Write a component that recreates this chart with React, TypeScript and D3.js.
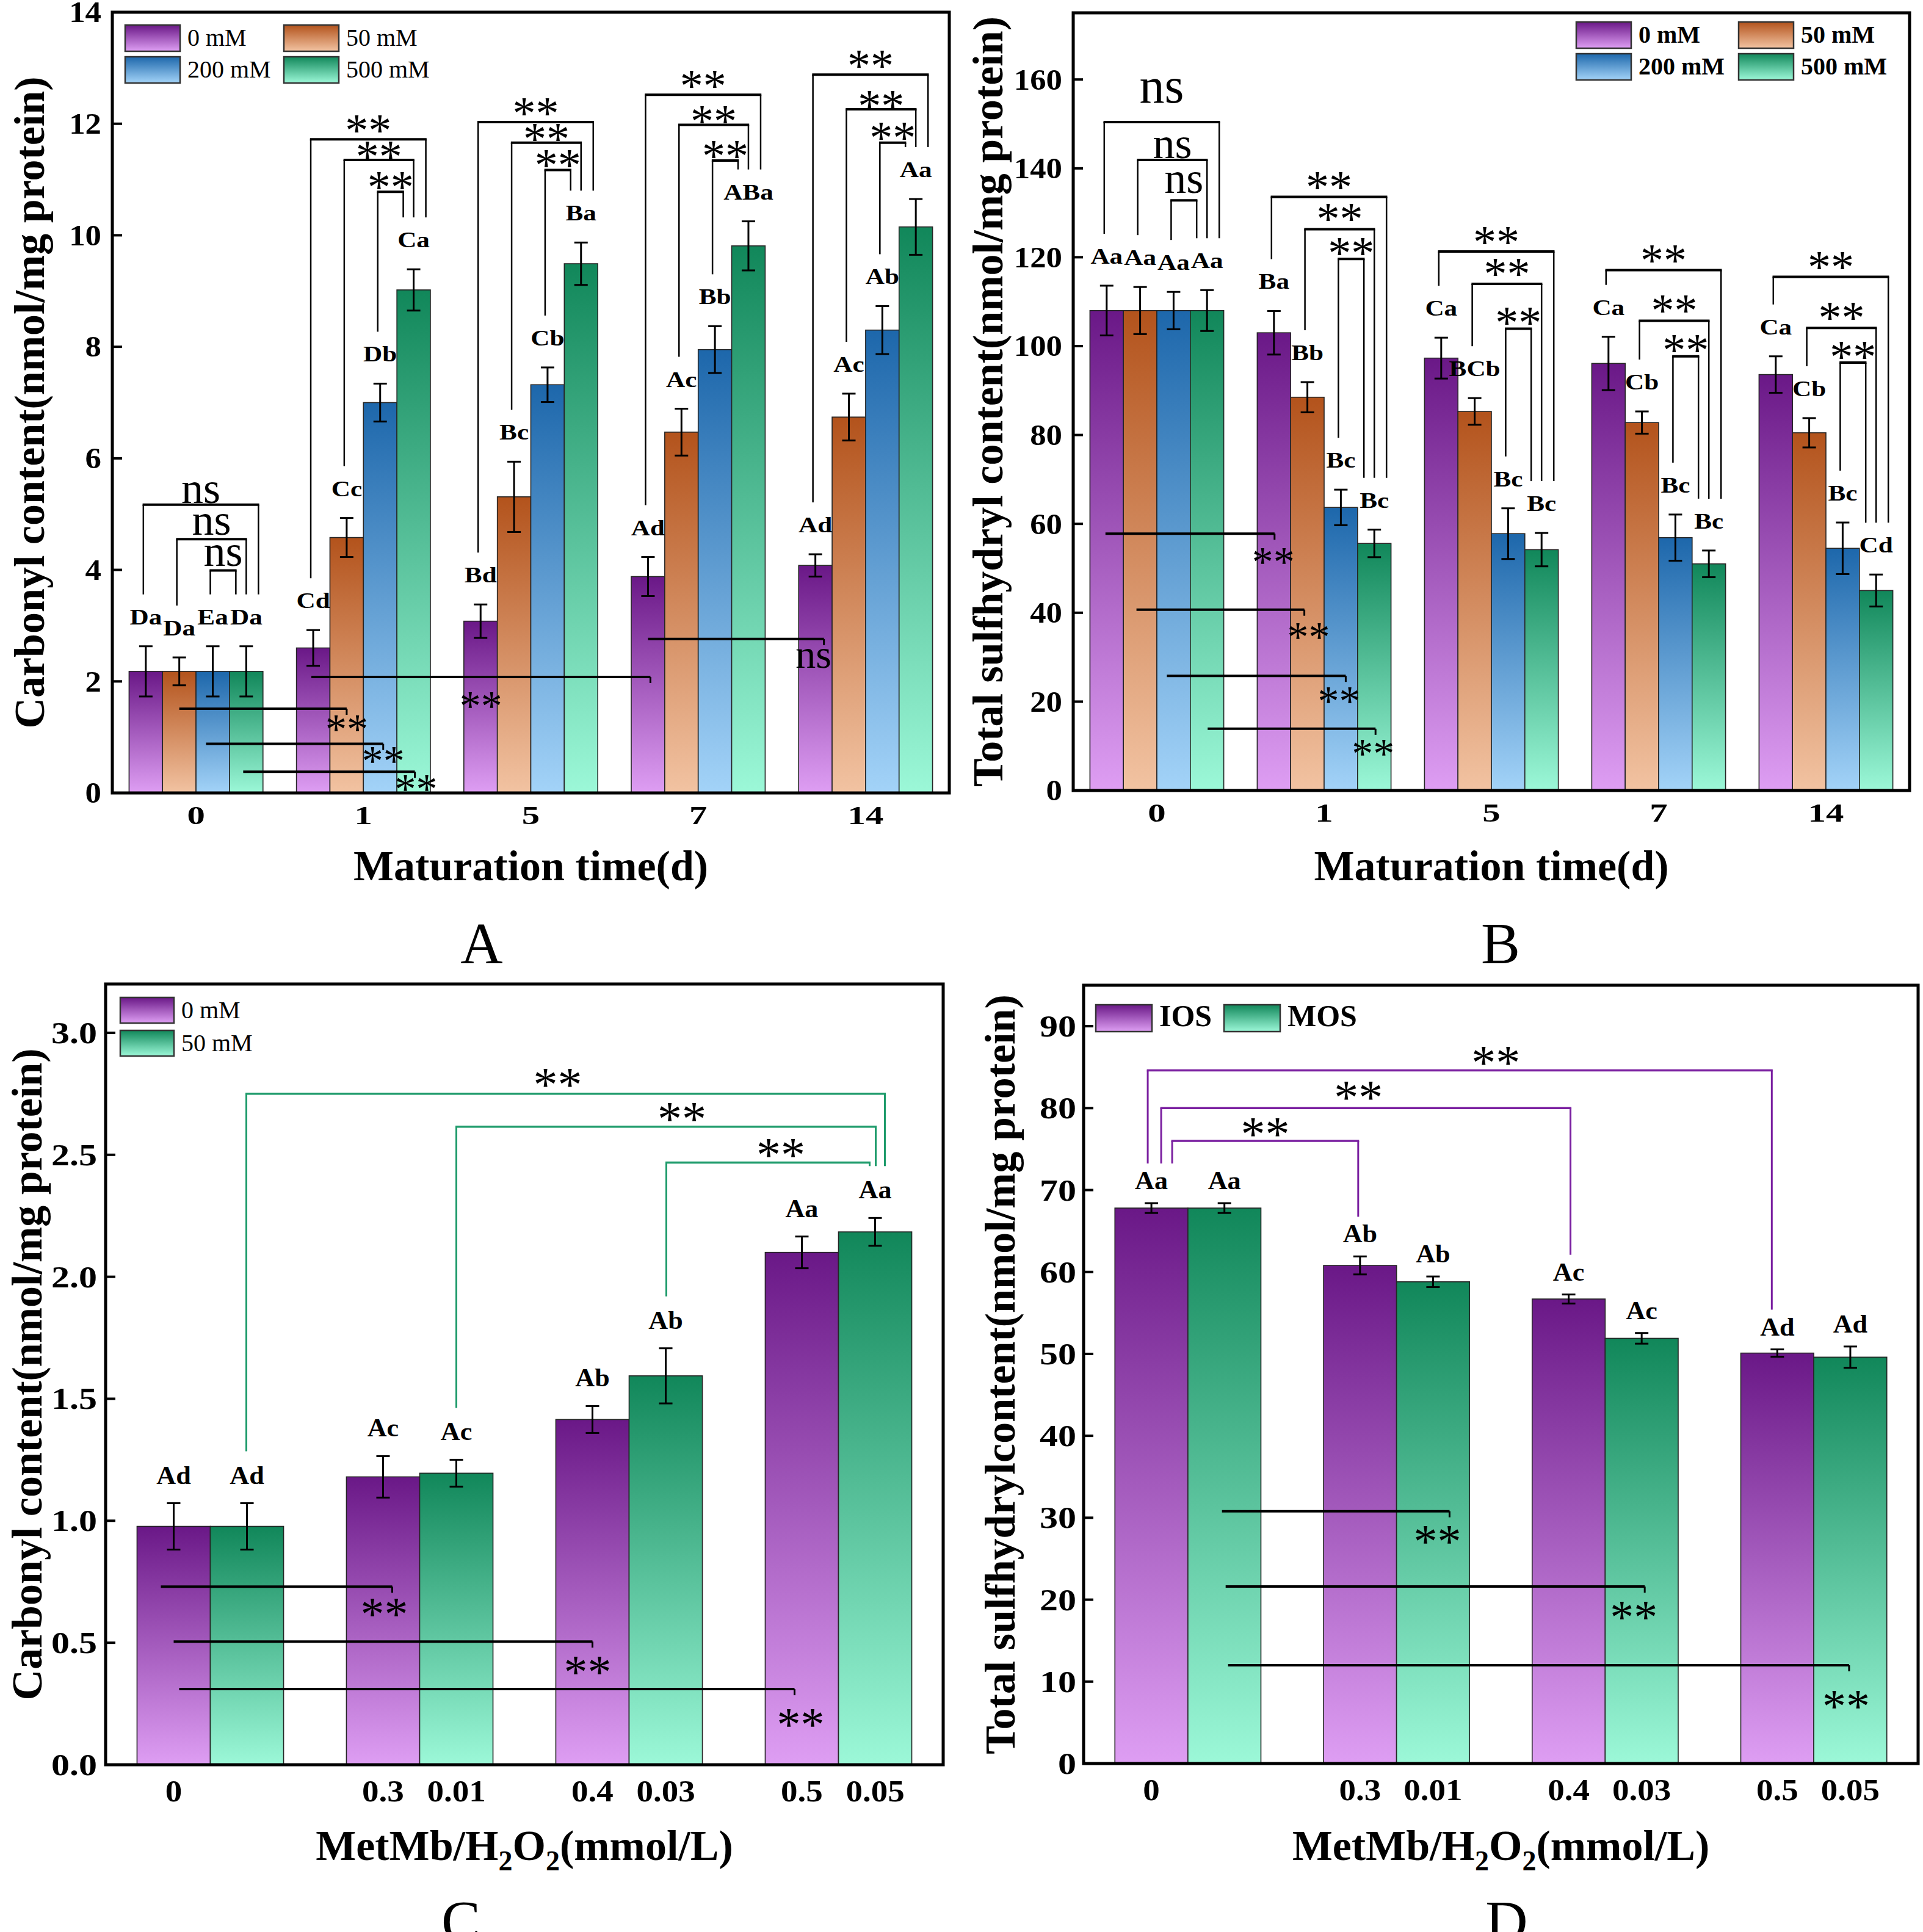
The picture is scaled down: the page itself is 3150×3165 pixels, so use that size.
import React from 'react';
import * as d3 from 'd3';

const FONT = "'Liberation Serif', 'Times New Roman', Times, serif";

// ---------------- Panel A : carbonyl content during maturation ----------------
const maturationDays = ['0', '1', '5', '7', '14'];
const saltLevels = ['0 mM', '50 mM', '200 mM', '500 mM'];
const carbonyl0mM = [2.18, 2.6, 3.08, 3.88, 4.08];
const carbonyl50mM = [2.18, 4.58, 5.31, 6.47, 6.74];
const carbonyl200mM = [2.18, 7.0, 7.32, 7.95, 8.3];
const carbonyl500mM = [2.18, 9.02, 9.49, 9.81, 10.15];
const carbonylSe0mM = [0.45, 0.32, 0.3, 0.35, 0.2];
const carbonylSe50mM = [0.25, 0.35, 0.63, 0.42, 0.42];
const carbonylSe200mM = [0.45, 0.34, 0.31, 0.42, 0.43];
const carbonylSe500mM = [0.45, 0.37, 0.38, 0.44, 0.5];
const carbonylLetters0mM = ['Da', 'Cd', 'Bd', 'Ad', 'Ad'];
const carbonylLetters50mM = ['Da', 'Cc', 'Bc', 'Ac', 'Ac'];
const carbonylLetters200mM = ['Ea', 'Db', 'Cb', 'Bb', 'Ab'];
const carbonylLetters500mM = ['Da', 'Ca', 'Ba', 'ABa', 'Aa'];
const carbonylTicks = [0, 2, 4, 6, 8, 10, 12, 14];
// nested comparisons inside each day (outer, middle, inner bracket heights)
const carbonylBrackets = [
  { group: 0, levels: [5.17, 4.55, 3.99], mark: 'ns' },
  { group: 1, levels: [11.72, 11.35, 10.78], mark: '**' },
  { group: 2, levels: [12.03, 11.66, 11.17], mark: '**' },
  { group: 3, levels: [12.52, 11.98, 11.34], mark: '**' },
  { group: 4, levels: [12.88, 12.26, 11.66], mark: '**' },
];
// comparisons between days
const carbonylLinks = [
  { from: [0, 1], to: [1, 1], level: 1.51, mark: '**', at: 'end' },
  { from: [0, 2], to: [1, 2], level: 0.88, mark: '**', at: 'end' },
  { from: [0, 3], to: [1, 3], level: 0.38, mark: '**', at: 'end' },
  { from: [1, 0], to: [3, 0], level: 2.08, mark: '**', at: 'mid' },
  { from: [3, 0], to: [4, 0], level: 2.76, mark: 'ns', at: 'end' },
];

// ---------------- Panel B : total sulfhydryl during maturation ----------------
const sulfhydryl0mM = [108, 103.0, 97.3, 96.1, 93.6];
const sulfhydryl50mM = [108, 88.5, 85.3, 82.8, 80.5];
const sulfhydryl200mM = [108, 63.7, 57.8, 56.9, 54.5];
const sulfhydryl500mM = [108, 55.6, 54.2, 51.0, 45.0];
const sulfhydrylSe0mM = [5.6, 4.9, 4.6, 6.0, 4.1];
const sulfhydrylSe50mM = [5.3, 3.4, 3.0, 2.5, 3.3];
const sulfhydrylSe200mM = [4.2, 4.0, 5.7, 5.2, 5.8];
const sulfhydrylSe500mM = [4.6, 3.1, 3.75, 3.0, 3.6];
const sulfhydrylLetters0mM = ['Aa', 'Ba', 'Ca', 'Ca', 'Ca'];
const sulfhydrylLetters50mM = ['Aa', 'Bb', 'BCb', 'Cb', 'Cb'];
const sulfhydrylLetters200mM = ['Aa', 'Bc', 'Bc', 'Bc', 'Bc'];
const sulfhydrylLetters500mM = ['Aa', 'Bc', 'Bc', 'Bc', 'Cd'];
const sulfhydrylTicks = [0, 20, 40, 60, 80, 100, 120, 140, 160];
const sulfhydrylBrackets = [
  { group: 0, levels: [150.4, 141.9, 132.8], mark: 'ns' },
  { group: 1, levels: [133.6, 126.3, 119.6], mark: '**' },
  { group: 2, levels: [121.3, 114.0, 103.9], mark: '**' },
  { group: 3, levels: [117.1, 105.7, 97.7], mark: '**' },
  { group: 4, levels: [115.6, 104.1, 96.3], mark: '**' },
];
const sulfhydrylLinks = [
  { from: [0, 0], to: [1, 0], level: 57.8, mark: '**', at: 'end' },
  { from: [0, 1], to: [1, 1], level: 40.7, mark: '**', at: 'end' },
  { from: [0, 2], to: [1, 2], level: 25.8, mark: '**', at: 'end' },
  { from: [0, 3], to: [1, 3], level: 13.9, mark: '**', at: 'end' },
];

// ---------------- Panel C : carbonyl under MetMb / H2O2 oxidation ----------------
const metMbLevels = ['0', '0.3', '0.4', '0.5'];
const h2o2Levels = ['', '0.01', '0.03', '0.05'];
const oxSeriesC = ['0 mM', '50 mM'];
const oxCarbonylIOS = [0.977, 1.18, 1.415, 2.1];
const oxCarbonylMOS = [0.977, 1.195, 1.594, 2.184];
const oxCarbonylSeIOS = [0.095, 0.085, 0.055, 0.065];
const oxCarbonylSeMOS = [0.095, 0.055, 0.113, 0.057];
const oxCarbonylLettersIOS = ['Ad', 'Ac', 'Ab', 'Aa'];
const oxCarbonylLettersMOS = ['Ad', 'Ac', 'Ab', 'Aa'];
const oxCarbonylTicks = [0, 0.5, 1.0, 1.5, 2.0, 2.5, 3.0];
const oxCarbonylBrackets = [
  { from: [0, 1], to: [3, 1], level: 2.75, mark: '**' },
  { from: [1, 1], to: [3, 1], level: 2.615, mark: '**' },
  { from: [2, 1], to: [3, 1], level: 2.468, mark: '**' },
];
const oxCarbonylLinks = [
  { from: [0, 0], to: [1, 0], level: 0.73, mark: '**', at: 'end' },
  { from: [0, 0], to: [2, 0], level: 0.505, mark: '**', at: 'end' },
  { from: [0, 0], to: [3, 0], level: 0.31, mark: '**', at: 'end' },
];

// ---------------- Panel D : total sulfhydryl under MetMb / H2O2 oxidation ----------------
const oxSeriesD = ['IOS', 'MOS'];
const oxSulfIOS = [67.8, 60.8, 56.7, 50.1];
const oxSulfMOS = [67.8, 58.8, 51.9, 49.6];
const oxSulfSeIOS = [0.6, 1.1, 0.55, 0.45];
const oxSulfSeMOS = [0.6, 0.65, 0.65, 1.3];
const oxSulfLettersIOS = ['Aa', 'Ab', 'Ac', 'Ad'];
const oxSulfLettersMOS = ['Aa', 'Ab', 'Ac', 'Ad'];
const oxSulfTicks = [0, 10, 20, 30, 40, 50, 60, 70, 80, 90];
const oxSulfBrackets = [
  { from: [0, 0], to: [3, 0], level: 84.6, mark: '**' },
  { from: [0, 0], to: [2, 0], level: 80.0, mark: '**' },
  { from: [0, 0], to: [1, 0], level: 76.0, mark: '**' },
];
const oxSulfLinks = [
  { from: [0, 1], to: [1, 1], level: 30.8, mark: '**', at: 'end' },
  { from: [0, 1], to: [2, 1], level: 21.6, mark: '**', at: 'end' },
  { from: [0, 1], to: [3, 1], level: 12.0, mark: '**', at: 'end' },
];

// ---------------- styling ----------------
const COLORS: Record<string, [string, string]> = {
  purple: ['#6a1887', '#de9ef3'],
  orange: ['#b3531c', '#f2c3a2'],
  blue: ['#1d67ab', '#a3d3f8'],
  green: ['#11875a', '#9cf8d8'],
};
const GREEN_LINE = '#1e9b6b';
const PURPLE_LINE = '#7a1fa0';

function Txt(props: any) {
  const { x, y, children, size, weight = 'normal', anchor = 'middle', sx = 1, rotate = 0, fill = '#000' } = props;
  let t = `translate(${x},${y})`;
  if (rotate) t += ` rotate(${rotate})`;
  if (sx !== 1) t += ` scale(${sx},1)`;
  return (
    <text transform={t} fontSize={size} fontWeight={weight} textAnchor={anchor} fontFamily={FONT} fill={fill}>
      {children}
    </text>
  );
}

function scalesFor(p: any) {
  const x = d3.scaleBand<number>().domain(d3.range(p.groups.length)).range([p.left, p.right]).paddingInner(p.pad).paddingOuter(p.pad / 2);
  const y = d3.scaleLinear().domain([0, p.yMax]).range([p.bottom, p.top]);
  const bw = x.bandwidth() / p.series.length;
  const bx = (g: number, s: number) => (x(g) as number) + s * bw;
  const cx = (g: number, s: number) => bx(g, s) + bw / 2;
  const errTop = (g: number, s: number) => y(p.series[s].values[g] + p.series[s].errors[g]);
  return { x, y, bw, bx, cx, errTop };
}

function Bars({ p, sc }: any) {
  return (
    <g>
      {p.series.map((s: any, si: number) =>
        s.values.map((v: number, gi: number) => (
          <rect key={`b${si}-${gi}`} x={sc.bx(gi, si)} y={sc.y(v)} width={sc.bw} height={sc.y(0) - sc.y(v)}
            fill={`url(#grad-${s.color})`} stroke="#262626" strokeWidth={1.6} />
        ))
      )}
    </g>
  );
}

function ErrorBars({ p, sc, cap }: any) {
  return (
    <g stroke="#000" strokeWidth={3}>
      {p.series.map((s: any, si: number) =>
        s.values.map((v: number, gi: number) => {
          const c = sc.cx(gi, si);
          const y1 = sc.y(v + s.errors[gi]);
          const y2 = sc.y(v - s.errors[gi]);
          return (
            <g key={`e${si}-${gi}`}>
              <line x1={c} x2={c} y1={y1} y2={y2} />
              <line x1={c - cap / 2} x2={c + cap / 2} y1={y1} y2={y1} />
              <line x1={c - cap / 2} x2={c + cap / 2} y1={y2} y2={y2} />
            </g>
          );
        })
      )}
    </g>
  );
}

function Letters({ p, sc, size, sx, gap }: any) {
  return (
    <g>
      {p.series.map((s: any, si: number) =>
        s.letters.map((l: string, gi: number) => (
          <Txt key={`l${si}-${gi}`} x={sc.cx(gi, si)} y={sc.errTop(gi, si) - gap} size={size} weight="bold" sx={sx}>{l}</Txt>
        ))
      )}
    </g>
  );
}

function Frame({ p, sc, labelSize, labelSx, labelGap }: any) {
  return (
    <g>
      {p.ticks.map((t: number) => (
        <g key={`t${t}`}>
          <line x1={p.left} x2={p.left + 16} y1={sc.y(t)} y2={sc.y(t)} stroke="#000" strokeWidth={4} />
          <Txt x={p.left - labelGap} y={sc.y(t) + 0.34 * labelSize} size={labelSize} weight="bold" anchor="end" sx={labelSx}>
            {p.fmt(t)}
          </Txt>
        </g>
      ))}
      <rect x={p.left} y={p.top} width={p.right - p.left} height={p.bottom - p.top} fill="none" stroke="#000" strokeWidth={5} />
    </g>
  );
}

function Legend({ items, w, h, size, weight }: any) {
  return (
    <g>
      {items.map((it: any, i: number) => (
        <g key={`lg${i}`}>
          <rect x={it.x} y={it.y} width={w} height={h} fill={`url(#grad-${it.color})`} stroke="#333" strokeWidth={2.5} />
          <Txt x={it.x + w + 12} y={it.y + h * 0.8} size={size} weight={weight} anchor="start">{it.name}</Txt>
        </g>
      ))}
    </g>
  );
}

function Bracket({ x1, x2, yl, e1, e2, color, hw, lw }: any) {
  return (
    <g stroke={color} fill="none">
      <line x1={x1} x2={x1} y1={yl} y2={e1} strokeWidth={lw} />
      <line x1={x2} x2={x2} y1={yl} y2={e2} strokeWidth={lw} />
      <line x1={x1 - lw / 2} x2={x2 + lw / 2} y1={yl} y2={yl} strokeWidth={hw} />
    </g>
  );
}

// nested brackets inside one group: bars 0,1,2 against bar 3
function TripleBrackets({ sc, specs, ldx, rdx, legGap, starLift, nsLift, starSize, nsSize, special }: any) {
  const out: any[] = [];
  specs.forEach((sp: any, i: number) => {
    for (let k = 0; k < 3; k++) {
      const g = sp.group;
      const x1 = sc.cx(g, k) + ldx;
      const x2 = sc.cx(g, 3) + rdx[k];
      const yl = sc.y(sp.levels[k]);
      out.push(<Bracket key={`tb${i}-${k}`} x1={x1} x2={x2} yl={yl} e1={sc.errTop(g, k) - legGap} e2={sc.errTop(g, 3) - legGap} color="#000" hw={4} lw={2.5} />);
      const mx = (x1 + x2) / 2;
      if (sp.mark === 'ns') {
        const sz = special && special.group === g ? special.size[k] : nsSize;
        const lift = special && special.group === g ? special.lift[k] : nsLift[k];
        out.push(<Txt key={`tt${i}-${k}`} x={mx} y={yl - lift} size={sz}>ns</Txt>);
      } else {
        out.push(<Txt key={`tt${i}-${k}`} x={mx} y={yl - starLift[k] + 0.47 * starSize} size={starSize}>**</Txt>);
      }
    }
  });
  return <g>{out}</g>;
}

// single brackets between groups (panels C, D)
function SpanBrackets({ sc, specs, ldx, rdx, starDx, legGap, starLift, starSize, color }: any) {
  return (
    <g>
      {specs.map((sp: any, i: number) => {
        const x1 = sc.cx(sp.from[0], sp.from[1]) + ldx[i];
        const x2 = sc.cx(sp.to[0], sp.to[1]) + rdx[i];
        const yl = sc.y(sp.level);
        return (
          <g key={`sb${i}`}>
            <Bracket x1={x1} x2={x2} yl={yl} e1={sc.errTop(sp.from[0], sp.from[1]) - legGap} e2={sc.errTop(sp.to[0], sp.to[1]) - legGap} color={color} hw={3.5} lw={3} />
            <Txt x={(x1 + x2) / 2 + starDx[i]} y={yl - starLift[i] + 0.47 * starSize} size={starSize}>{sp.mark}</Txt>
          </g>
        );
      })}
    </g>
  );
}

// horizontal comparison lines near the bottom
function Links({ sc, links, fromDx, toDx, drop, markDx, starSize, nsSize }: any) {
  return (
    <g>
      {links.map((ln: any, i: number) => {
        const x1 = sc.cx(ln.from[0], ln.from[1]) + fromDx[i];
        const x2 = sc.cx(ln.to[0], ln.to[1]) + toDx[i];
        const yl = sc.y(ln.level);
        const tx = (ln.at === 'mid' ? (x1 + x2) / 2 : x2) + markDx[i];
        const cy = yl + drop[i];
        return (
          <g key={`ln${i}`}>
            <line x1={x1} x2={x2} y1={yl} y2={yl} stroke="#000" strokeWidth={4} />
            <line x1={x2} x2={x2} y1={yl} y2={yl + 10} stroke="#000" strokeWidth={3} />
            {ln.mark === 'ns' ? (
              <Txt x={tx} y={cy + 0.23 * nsSize} size={nsSize}>ns</Txt>
            ) : (
              <Txt x={tx} y={cy + 0.47 * starSize} size={starSize}>**</Txt>
            )}
          </g>
        );
      })}
    </g>
  );
}

function OxTitle({ x, y }: any) {
  return (
    <text x={x} y={y} textAnchor="middle" fontSize={70} fontWeight="bold" fontFamily={FONT}>
      MetMb/H<tspan dy={17} fontSize={46}>2</tspan>
      <tspan dy={-17}>O</tspan>
      <tspan dy={17} fontSize={46}>2</tspan>
      <tspan dy={-17}>(mmol/L)</tspan>
    </text>
  );
}

const panelA = {
  left: 184, right: 1555, top: 20, bottom: 1299, yMax: 14, ticks: carbonylTicks, fmt: d3.format('d'),
  groups: maturationDays, pad: 0.2,
  series: [
    { name: saltLevels[0], values: carbonyl0mM, errors: carbonylSe0mM, letters: carbonylLetters0mM, color: 'purple' },
    { name: saltLevels[1], values: carbonyl50mM, errors: carbonylSe50mM, letters: carbonylLetters50mM, color: 'orange' },
    { name: saltLevels[2], values: carbonyl200mM, errors: carbonylSe200mM, letters: carbonylLetters200mM, color: 'blue' },
    { name: saltLevels[3], values: carbonyl500mM, errors: carbonylSe500mM, letters: carbonylLetters500mM, color: 'green' },
  ],
};
const panelB = {
  left: 1758, right: 3128, top: 21, bottom: 1295, yMax: 175, ticks: sulfhydrylTicks, fmt: d3.format('d'),
  groups: maturationDays, pad: 0.2,
  series: [
    { name: saltLevels[0], values: sulfhydryl0mM, errors: sulfhydrylSe0mM, letters: sulfhydrylLetters0mM, color: 'purple' },
    { name: saltLevels[1], values: sulfhydryl50mM, errors: sulfhydrylSe50mM, letters: sulfhydrylLetters50mM, color: 'orange' },
    { name: saltLevels[2], values: sulfhydryl200mM, errors: sulfhydrylSe200mM, letters: sulfhydrylLetters200mM, color: 'blue' },
    { name: saltLevels[3], values: sulfhydryl500mM, errors: sulfhydrylSe500mM, letters: sulfhydrylLetters500mM, color: 'green' },
  ],
};
const panelC = {
  left: 173, right: 1545, top: 1612, bottom: 2891, yMax: 3.2, ticks: oxCarbonylTicks, fmt: d3.format('.1f'),
  groups: metMbLevels, pad: 0.3,
  series: [
    { name: oxSeriesC[0], values: oxCarbonylIOS, errors: oxCarbonylSeIOS, letters: oxCarbonylLettersIOS, color: 'purple', ticks: metMbLevels },
    { name: oxSeriesC[1], values: oxCarbonylMOS, errors: oxCarbonylSeMOS, letters: oxCarbonylLettersMOS, color: 'green', ticks: h2o2Levels },
  ],
};
const panelD = {
  left: 1775, right: 3142, top: 1614, bottom: 2889, yMax: 95, ticks: oxSulfTicks, fmt: d3.format('d'),
  groups: metMbLevels, pad: 0.3,
  series: [
    { name: oxSeriesD[0], values: oxSulfIOS, errors: oxSulfSeIOS, letters: oxSulfLettersIOS, color: 'purple', ticks: metMbLevels },
    { name: oxSeriesD[1], values: oxSulfMOS, errors: oxSulfSeMOS, letters: oxSulfLettersMOS, color: 'green', ticks: h2o2Levels },
  ],
};

function MaturationPanel({ p, yTitle, yTitleX, legendItems, legendWeight, brackets, links, nsSpecial, starLift, nsLift, linkFromDx, linkToDx, linkDrop, linkMarkDx, letter, letterX }: any) {
  const sc = scalesFor(p);
  const midY = (p.top + p.bottom) / 2;
  return (
    <g>
      <Bars p={p} sc={sc} />
      <ErrorBars p={p} sc={sc} cap={22} />
      <Letters p={p} sc={sc} size={36} sx={1.2} gap={36} />
      <TripleBrackets sc={sc} specs={brackets} ldx={-4} rdx={[20, 0, -17]} legGap={85}
        starLift={starLift} nsLift={nsLift} starSize={76} nsSize={72} special={nsSpecial} />
      <Links sc={sc} links={links} fromDx={linkFromDx} toDx={linkToDx} drop={linkDrop} markDx={linkMarkDx} starSize={70} nsSize={66} />
      <Frame p={p} sc={sc} labelSize={48} labelSx={1.1} labelGap={18} />
      {p.groups.map((g: string, gi: number) => (
        <Txt key={`xt${gi}`} x={(sc.x(gi) as number) + sc.x.bandwidth() / 2} y={p.bottom + 51} size={42} weight="bold" sx={1.4}>{g}</Txt>
      ))}
      <Legend items={legendItems} w={90} h={43} size={40} weight={legendWeight} />
      <Txt x={(p.left + p.right) / 2} y={1442} size={70} weight="bold">Maturation time(d)</Txt>
      <Txt x={yTitleX} y={midY} size={70} weight="bold" rotate={-90}>{yTitle}</Txt>
      <Txt x={letterX} y={1578} size={96}>{letter}</Txt>
    </g>
  );
}

function OxidationPanel({ p, yTitle, yTitleX, legendItems, legendW, legendH, legendSize, legendWeight, brackets, bColor, bldx, brdx, bStarDx, bLegGap, bStarLift, links, linkFromDx, linkToDx, linkDrop, linkMarkDx, letterGap, letter, letterX, labelGap }: any) {
  const sc = scalesFor(p);
  const midY = (p.top + p.bottom) / 2;
  return (
    <g>
      <Bars p={p} sc={sc} />
      <ErrorBars p={p} sc={sc} cap={22} />
      <Letters p={p} sc={sc} size={42} sx={1.05} gap={letterGap} />
      <SpanBrackets sc={sc} specs={brackets} ldx={bldx} rdx={brdx} starDx={bStarDx} legGap={bLegGap} starLift={bStarLift} starSize={80} color={bColor} />
      <Links sc={sc} links={links} fromDx={linkFromDx} toDx={linkToDx} drop={linkDrop} markDx={linkMarkDx} starSize={78} nsSize={66} />
      <Frame p={p} sc={sc} labelSize={50} labelSx={1.2} labelGap={labelGap} />
      {p.series.map((s: any, si: number) =>
        s.ticks.map((t: string, gi: number) => (
          <Txt key={`xt${si}-${gi}`} x={sc.cx(gi, si)} y={p.bottom + 60} size={50} weight="bold" sx={1.1}>{t}</Txt>
        ))
      )}
      <Legend items={legendItems} w={legendW} h={legendH} size={legendSize} weight={legendWeight} />
      <OxTitle x={(p.left + p.right) / 2} y={3047} />
      <Txt x={yTitleX} y={midY} size={70} weight="bold" rotate={-90}>{yTitle}</Txt>
      <Txt x={letterX} y={3180} size={96}>{letter}</Txt>
    </g>
  );
}

export default function App() {
  const legendA = [
    { name: panelA.series[0].name, color: 'purple', x: 205, y: 41 },
    { name: panelA.series[1].name, color: 'orange', x: 465, y: 41 },
    { name: panelA.series[2].name, color: 'blue', x: 205, y: 93 },
    { name: panelA.series[3].name, color: 'green', x: 465, y: 93 },
  ];
  const legendB = [
    { name: panelB.series[0].name, color: 'purple', x: 2582, y: 36 },
    { name: panelB.series[1].name, color: 'orange', x: 2848, y: 36 },
    { name: panelB.series[2].name, color: 'blue', x: 2582, y: 88 },
    { name: panelB.series[3].name, color: 'green', x: 2848, y: 88 },
  ];
  const legendC = [
    { name: panelC.series[0].name, color: 'purple', x: 197, y: 1634 },
    { name: panelC.series[1].name, color: 'green', x: 197, y: 1688 },
  ];
  const legendD = [
    { name: panelD.series[0].name, color: 'purple', x: 1795, y: 1646 },
    { name: panelD.series[1].name, color: 'green', x: 2005, y: 1646 },
  ];
  return (
    <svg xmlns="http://www.w3.org/2000/svg" width={3150} height={3165}
      style={{ position: 'absolute', left: 0, top: 0, display: 'block', background: '#fff' }}>
      <defs>
        {Object.entries(COLORS).map(([k, [a, b]]) => (
          <linearGradient key={k} id={`grad-${k}`} x1="0" y1="0" x2="0" y2="1">
            <stop offset="0" stopColor={a} />
            <stop offset="1" stopColor={b} />
          </linearGradient>
        ))}
      </defs>
      <rect x={0} y={0} width={3150} height={3165} fill="#fff" />

      <MaturationPanel p={panelA} yTitle="Carbonyl content(nmol/mg protein)" yTitleX={72}
        legendItems={legendA} legendWeight="normal" brackets={carbonylBrackets} links={carbonylLinks}
        nsSpecial={null} starLift={[25, 16, 18]} nsLift={[3, 7, 7]}
        linkFromDx={[0, -11, -5, -3, 0]} linkToDx={[0, 5, 2, 4, 14]} linkDrop={[24, 18, 19, 38, 32]} linkMarkDx={[0, 0, 2, 0, -17]}
        letter="A" letterX={789} />

      <MaturationPanel p={panelB} yTitle="Total sulfhydryl content(nmol/mg protein)" yTitleX={1642}
        legendItems={legendB} legendWeight="bold" brackets={sulfhydrylBrackets} links={sulfhydrylLinks}
        nsSpecial={{ group: 0, size: [82, 72, 72], lift: [32, 3, 12] }} starLift={[26, 27, 20]} nsLift={[3, 3, 3]}
        linkFromDx={[-2, -6, -11, 1]} linkToDx={[1, -5, 8, 2]} linkDrop={[37, 35, 32, 31]} linkMarkDx={[-2, 7, -11, -4]}
        letter="B" letterX={2458} />

      <OxidationPanel p={panelC} yTitle="Carbonyl content(nmol/mg protein)" yTitleX={68}
        legendItems={legendC} legendW={88} legendH={42} legendSize={40} legendWeight="normal"
        brackets={oxCarbonylBrackets} bColor={GREEN_LINE} bldx={[-1, 0, 1]} brdx={[16, 1, -9]} bStarDx={[-13, 26, 21]} bLegGap={85} bStarLift={[25, 23, 23]}
        links={oxCarbonylLinks} linkFromDx={[-21, 0, 9]} linkToDx={[15, 0, -12]} linkDrop={[34, 39, 47]} linkMarkDx={[-13, -8, 10]}
        letterGap={32} letter="C" letterX={755} labelGap={14} />

      <OxidationPanel p={panelD} yTitle="Total sulfhydrylcontent(nmol/mg protein)" yTitleX={1662}
        legendItems={legendD} legendW={92} legendH={44} legendSize={50} legendWeight="bold"
        brackets={oxSulfBrackets} bColor={PURPLE_LINE} bldx={[-6, 16, 34]} brdx={[-9, 3, -3]} bStarDx={[59, -12, 0]} bLegGap={65} bStarLift={[23, 28, 22]}
        links={oxSulfLinks} linkFromDx={[-4, 2, 6]} linkToDx={[27, 5, -2]} linkDrop={[39, 39, 56]} linkMarkDx={[-20, -18, -5]}
        letterGap={23} letter="D" letterX={2468} labelGap={12} />
    </svg>
  );
}
